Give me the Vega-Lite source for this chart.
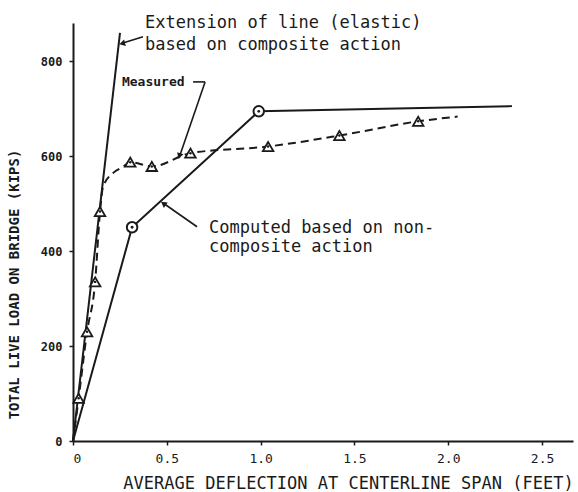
{
  "$schema": "https://vega.github.io/schema/vega-lite/v6.json",
  "width": 500,
  "height": 418,
  "autosize": "none",
  "padding": {"left": 73, "top": 23, "right": 5, "bottom": 51},
  "background": "white",
  "config": {
    "view": {"stroke": null},
    "axis": {"grid": false, "domainColor": "#1a1a1a", "domainWidth": 2, "tickColor": "#1a1a1a", "labelColor": "#1a1a1a", "titleColor": "#1a1a1a"}
  },
  "datasets": {
    "elastic": [{"x": 0, "y": 0}, {"x": 0.2505, "y": 859}],
    "computed": [
      {"x": 0, "y": 0, "m": 0},
      {"x": 0.315, "y": 450, "m": 1},
      {"x": 0.99, "y": 694, "m": 1},
      {"x": 2.34, "y": 705, "m": 0}
    ],
    "measured": [
      {"x": 0, "y": 0, "m": 0},
      {"x": 0.03, "y": 90, "m": 1},
      {"x": 0.075, "y": 230, "m": 1},
      {"x": 0.118, "y": 335, "m": 1},
      {"x": 0.144, "y": 483, "m": 1},
      {"x": 0.16, "y": 535, "m": 0},
      {"x": 0.213, "y": 564, "m": 0},
      {"x": 0.266, "y": 577, "m": 0},
      {"x": 0.305, "y": 587, "m": 1},
      {"x": 0.42, "y": 578, "m": 1},
      {"x": 0.626, "y": 606, "m": 1},
      {"x": 1.04, "y": 620, "m": 1},
      {"x": 1.42, "y": 643, "m": 1},
      {"x": 1.84, "y": 673, "m": 1},
      {"x": 2.05, "y": 683, "m": 0}
    ],
    "leaders": [
      {"x": 0.373, "y": 851, "x2": 0.266, "y2": 838},
      {"x": 0.640, "y": 756, "x2": 0.704, "y2": 756},
      {"x": 0.704, "y": 756, "x2": 0.565, "y2": 596},
      {"x": 0.661, "y": 451, "x2": 0.480, "y2": 501}
    ],
    "arrows": [
      {"x": 0.262, "y": 837, "a": 255},
      {"x": 0.567, "y": 600, "a": 199},
      {"x": 0.482, "y": 500, "a": 305}
    ],
    "labels": [
      {"x": 0.384, "y": 880, "t": "Extension of line (elastic)"},
      {"x": 0.384, "y": 834, "t": "based on composite action"},
      {"x": 0.725, "y": 448, "t": "Computed based on non-"},
      {"x": 0.725, "y": 408, "t": "composite action"}
    ],
    "small": [{"x": 0.261, "y": 756, "t": "Measured"}]
  },
  "encoding": {
    "x": {
      "field": "x", "type": "quantitative",
      "scale": {"domain": [0, 2.665], "nice": false, "zero": false},
      "axis": {
        "values": [0, 0.5, 1, 1.5, 2, 2.5],
        "labelExpr": "datum.value == 0 ? '0' : format(datum.value, '.1f')",
        "labelFont": "DejaVu Sans Mono", "labelFontSize": 13, "labelPadding": 7, "tickSize": 4, "tickWidth": 1.5,
        "title": "AVERAGE DEFLECTION AT CENTERLINE SPAN (FEET)",
        "titleFont": "DejaVu Sans Mono", "titleFontSize": 17, "titleFontWeight": "normal",
        "titleX": 275, "titleY": 51, "titleAlign": "center", "titleBaseline": "bottom", "titleAnchor": null
      }
    },
    "y": {
      "field": "y", "type": "quantitative",
      "scale": {"domain": [0, 880], "nice": false},
      "axis": {
        "values": [0, 200, 400, 600, 800],
        "labelFont": "DejaVu Sans Mono", "labelFontSize": 12, "labelFontWeight": "bold", "labelPadding": 7, "tickSize": 4, "tickWidth": 1.5,
        "title": "TOTAL LIVE LOAD ON BRIDGE (KIPS)",
        "titleFont": "DejaVu Sans Mono", "titleFontSize": 14, "titleFontWeight": "bold",
        "titleX": -52, "titleY": 261, "titleAngle": -90, "titleAlign": "center", "titleBaseline": "bottom", "titleAnchor": null
      }
    }
  },
  "layer": [
    {"data": {"name": "elastic"}, "mark": {"type": "line", "color": "#1a1a1a", "strokeWidth": 2}},
    {"data": {"name": "computed"}, "mark": {"type": "line", "color": "#1a1a1a", "strokeWidth": 2}},
    {"data": {"name": "measured"}, "mark": {"type": "line", "color": "#1a1a1a", "strokeWidth": 2, "strokeDash": [8, 5], "interpolate": "monotone"}},
    {"data": {"name": "computed"}, "transform": [{"filter": "datum.m == 1"}],
     "mark": {"type": "point", "shape": "circle", "size": 110, "filled": true, "fill": "white", "stroke": "#1a1a1a", "strokeWidth": 2, "opacity": 1}},
    {"data": {"name": "computed"}, "transform": [{"filter": "datum.m == 1"}],
     "mark": {"type": "point", "shape": "circle", "size": 8, "filled": true, "color": "#1a1a1a", "opacity": 1}},
    {"data": {"name": "measured"}, "transform": [{"filter": "datum.m == 1"}],
     "mark": {"type": "point", "shape": "triangle-up", "size": 110, "filled": true, "fill": "white", "stroke": "#1a1a1a", "strokeWidth": 1.8, "opacity": 1}},
    {"data": {"name": "measured"}, "transform": [{"filter": "datum.m == 1"}],
     "mark": {"type": "point", "shape": "circle", "size": 6, "filled": true, "color": "#1a1a1a", "opacity": 1}},
    {"data": {"name": "leaders"}, "mark": {"type": "rule", "color": "#1a1a1a", "strokeWidth": 1.6},
     "encoding": {"x2": {"field": "x2"}, "y2": {"field": "y2"}}},
    {"data": {"name": "arrows"}, "mark": {"type": "point", "shape": "triangle-up", "size": 45, "filled": true, "color": "#1a1a1a", "opacity": 1},
     "encoding": {"angle": {"field": "a", "type": "quantitative", "scale": null}}},
    {"data": {"name": "labels"}, "mark": {"type": "text", "align": "left", "baseline": "middle", "font": "DejaVu Sans Mono", "fontSize": 17, "color": "#1a1a1a"},
     "encoding": {"text": {"field": "t"}}},
    {"data": {"name": "small"}, "mark": {"type": "text", "align": "left", "baseline": "middle", "font": "DejaVu Sans Mono", "fontSize": 13, "fontWeight": "bold", "color": "#1a1a1a"},
     "encoding": {"text": {"field": "t"}}}
  ]
}
